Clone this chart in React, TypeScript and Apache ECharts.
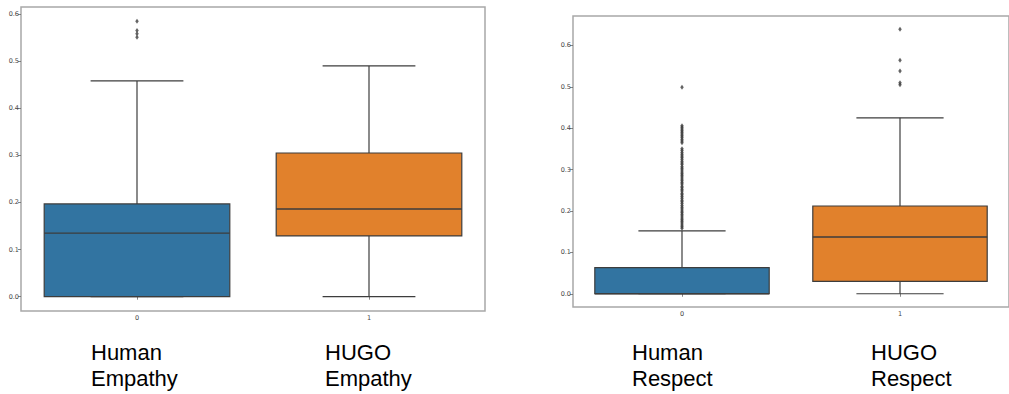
import React, { useEffect, useRef } from "react";
import * as echarts from "echarts";

// categories
const categories = ["0", "1"];
const tickValues = [0, 0.1, 0.2, 0.3, 0.4, 0.5, 0.6];

// [min, q1, median, q3, max]
const empathyBoxes = [
  [0.0, 0.0, 0.135, 0.197, 0.458],
  [0.0, 0.129, 0.186, 0.305, 0.49],
];
const respectBoxes = [
  [0.0, 0.0, 0.0, 0.063, 0.152],
  [0.0, 0.03, 0.137, 0.212, 0.425],
];

// outliers
const empathyHumanOutliers = [0.585, 0.565, 0.558, 0.551];
const empathyHugoOutliers: number[] = [];
const respectHumanOutliers = [
  0.499, 0.406, 0.402, 0.398, 0.394, 0.39, 0.386, 0.382, 0.378, 0.373, 0.369, 0.365,
  0.35, 0.346, 0.341, 0.337, 0.333, 0.329, 0.325, 0.32, 0.316, 0.312, 0.307, 0.303,
  0.299, 0.294, 0.29, 0.286, 0.282, 0.277, 0.273, 0.269, 0.265, 0.26, 0.256, 0.252,
  0.248, 0.243, 0.239, 0.235, 0.231, 0.226, 0.222, 0.218, 0.213, 0.209, 0.205, 0.2,
  0.196, 0.192, 0.188, 0.183, 0.179, 0.175, 0.171, 0.166, 0.162, 0.158,
];
const respectHugoOutliers = [0.639, 0.564, 0.538, 0.51, 0.505];

const boxColors = ["#3274a1", "#e1812c"];
const lineColor = "#3d3d3d";

const bottomLabels = [
  { text: "Human\nEmpathy", x: 91 },
  { text: "HUGO\nEmpathy", x: 325 },
  { text: "Human\nRespect", x: 632 },
  { text: "HUGO\nRespect", x: 871 },
];

function renderBox(params: any, api: any) {
  const xi = api.value(0);
  const mn = api.value(1);
  const q1 = api.value(2);
  const med = api.value(3);
  const q3 = api.value(4);
  const mx = api.value(5);
  const band = api.size([1, 0])[0];
  const w = band * 0.8;
  const cx = api.coord([xi, med])[0];
  const y = (v: number) => api.coord([xi, v])[1];
  const stroke = { stroke: lineColor, lineWidth: 1.2 };
  return {
    type: "group",
    children: [
      {
        type: "line",
        shape: { x1: cx, y1: y(q3), x2: cx, y2: y(mx) },
        style: stroke,
      },
      {
        type: "line",
        shape: { x1: cx, y1: y(q1), x2: cx, y2: y(mn) },
        style: stroke,
      },
      {
        type: "line",
        shape: { x1: cx - w / 4, y1: y(mx), x2: cx + w / 4, y2: y(mx) },
        style: stroke,
      },
      {
        type: "line",
        shape: { x1: cx - w / 4, y1: y(mn), x2: cx + w / 4, y2: y(mn) },
        style: stroke,
      },
      {
        type: "rect",
        shape: { x: cx - w / 2, y: y(q3), width: w, height: y(q1) - y(q3) },
        style: { fill: boxColors[xi], stroke: lineColor, lineWidth: 1.2 },
      },
      {
        type: "line",
        shape: { x1: cx - w / 2, y1: y(med), x2: cx + w / 2, y2: y(med) },
        style: { stroke: lineColor, lineWidth: 1.4 },
      },
    ],
  };
}

export default function App() {
  const ref = useRef<HTMLDivElement>(null);
  useEffect(() => {
    if (!ref.current) return;
    const chart = echarts.init(ref.current, undefined, { renderer: "svg" });

    const makeX = (gridIndex: number) => ({
      type: "category",
      gridIndex,
      data: categories,
      boundaryGap: true,
      axisLine: { show: false },
      axisTick: { show: true, alignWithLabel: true, length: 3, lineStyle: { color: "#666", width: 0.8 } },
      axisLabel: { fontSize: 6.5, color: "#444", margin: 3, fontFamily: "DejaVu Sans" },
      splitLine: { show: false },
    });
    const makeY = (gridIndex: number, min: number, max: number) => ({
      type: "value",
      gridIndex,
      min,
      max,
      axisLine: { show: false },
      axisTick: {
        show: true,
        length: 3,
        customValues: tickValues,
        lineStyle: { color: "#666", width: 0.8 },
      },
      axisLabel: {
        customValues: tickValues,
        fontSize: 6.5,
        color: "#444",
        margin: 2,
        fontFamily: "DejaVu Sans",
        formatter: (v: number) => v.toFixed(1),
      },
      splitLine: { show: false },
    });

    const boxData = (boxes: number[][]) => boxes.map((b, i) => [i, ...b]);
    const outData = (a: number[], idx: number) => a.map((v) => [idx, v]);

    const scatter = (xAxisIndex: number, data: number[][]) => ({
      type: "scatter",
      xAxisIndex,
      yAxisIndex: xAxisIndex,
      data,
      symbol: "diamond",
      symbolSize: [3.5, 5],
      itemStyle: { color: lineColor },
      z: 5,
      silent: true,
    });

    chart.setOption({
      animation: false,
      grid: [
        { left: 21, top: 7, width: 464, height: 304, show: true, borderColor: "#a8a8a8", borderWidth: 1.5, backgroundColor: "transparent" },
        { left: 573, top: 16, width: 444, height: 291, show: true, borderColor: "#a8a8a8", borderWidth: 1.5, backgroundColor: "transparent" },
      ],
      xAxis: [makeX(0), makeX(1)],
      yAxis: [makeY(0, -0.0304, 0.615), makeY(1, -0.032, 0.671)],
      series: [
        {
          type: "custom",
          xAxisIndex: 0,
          yAxisIndex: 0,
          renderItem: renderBox,
          encode: { x: 0, y: [1, 2, 3, 4, 5] },
          data: boxData(empathyBoxes),
          silent: true,
        },
        {
          type: "custom",
          xAxisIndex: 1,
          yAxisIndex: 1,
          renderItem: renderBox,
          encode: { x: 0, y: [1, 2, 3, 4, 5] },
          data: boxData(respectBoxes),
          silent: true,
        },
        scatter(0, [...outData(empathyHumanOutliers, 0), ...outData(empathyHugoOutliers, 1)]),
        scatter(1, [...outData(respectHumanOutliers, 0), ...outData(respectHugoOutliers, 1)]),
      ],
      graphic: bottomLabels.map((l) => ({
        type: "text",
        left: l.x,
        top: 339,
        style: {
          text: l.text,
          fontSize: 22,
          lineHeight: 26,
          fontFamily: "Liberation Sans, Arial, sans-serif",
          fill: "#000",
        },
      })),
    });
    return () => chart.dispose();
  }, []);
  return (
    <div
      ref={ref}
      style={{ position: "absolute", left: 0, top: 0, width: 1009, height: 394, background: "#fff" }}
    />
  );
}
